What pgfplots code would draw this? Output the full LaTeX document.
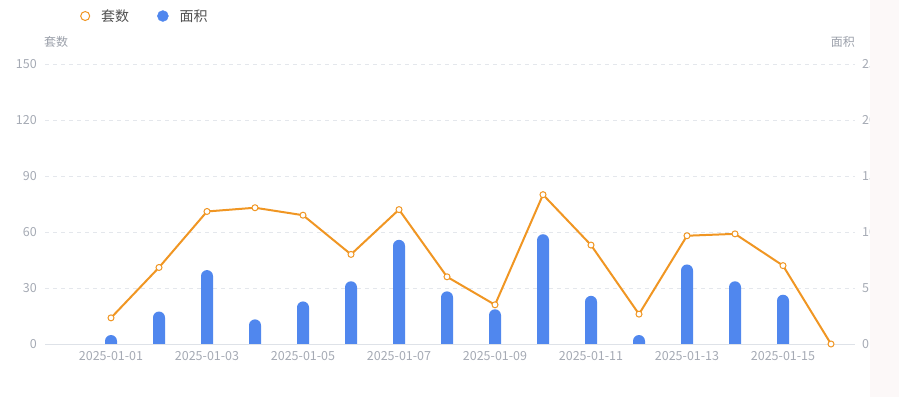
\documentclass[border=0pt]{standalone}
\usepackage{fontspec}
\setmainfont{Noto Sans CJK SC}
\usepackage{pgfplots}
\pgfplotsset{compat=1.18}
\usepackage{pgfplotstable}

\definecolor{barblue}{RGB}{80,135,238}
\definecolor{lineorange}{RGB}{240,150,35}
\definecolor{gridgray}{RGB}{228,231,236}
\definecolor{axisgray}{RGB}{222,226,232}
\definecolor{ticklab}{RGB}{165,170,180}
\definecolor{titlegray}{RGB}{155,160,170}
\definecolor{legendtext}{RGB}{80,80,80}
\definecolor{panelpink}{RGB}{252,248,248}

% rounded-top bar as a marker; clipped at y = 0 by the axis
\pgfdeclareplotmark{rbar}{%
  \pgfpathmoveto{\pgfqpoint{-6pt}{-500pt}}%
  \pgfpathlineto{\pgfqpoint{-6pt}{-6pt}}%
  \pgfpatharc{180}{0}{6pt}%
  \pgfpathlineto{\pgfqpoint{6pt}{-500pt}}%
  \pgfpathclose
  \pgfusepathqfill}

\pgfplotstableread{
x sets
0 14
1 41
2 71
3 73
4 69
5 48
6 72
7 36
8 21
9 80
10 53
11 16
12 58
13 59
14 42
15 0
}\setsdata

\pgfplotstableread{
x area
0 0.8
1 2.9
2 6.6
3 2.2
4 3.8
5 5.6
6 9.3
7 4.7
8 3.1
9 9.8
10 4.3
11 0.8
12 7.1
13 5.6
14 4.4
}\areadata

\pgfplotsset{
  common/.style={
    scale only axis, width=810pt, height=280pt,
    at={(45pt,53pt)}, anchor=south west,
    xmin=-1.375, xmax=15.5,
    major tick length=0pt,
    /pgf/number format/assume math mode=true,
    tick label style={font=\fontsize{12.5}{14}\selectfont, text=ticklab},
  }
}

\begin{document}
\begin{tikzpicture}
\path[use as bounding box] (0pt,0pt) rectangle (899pt,397pt);

% right axis: area bars (also carries the dashed grid, drawn under the bars)
\begin{axis}[common,
  hide x axis,
  axis y line*=right,
  y axis line style={draw=none},
  ymin=0, ymax=25, ytick={0,5,...,25},
  ymajorgrids,
  grid style={gridgray, line width=0.8pt, dash pattern=on 4pt off 4pt},
  yticklabel style={anchor=west, inner sep=0pt, xshift=7pt},
  clip marker paths=true,
  every axis y label/.style={at={(axis description cs:0.985,1.079)}, anchor=center},
  ylabel={面积},
  ylabel style={font=\fontsize{12}{14}\selectfont, text=titlegray},
]
\addplot[only marks, mark=rbar, color=barblue] table[x=x, y=area] {\areadata};
\end{axis}

% left axis: number of sets
\begin{axis}[common,
  axis x line*=bottom,
  axis y line*=left,
  x axis line style={-, draw=axisgray, line width=1pt},
  y axis line style={draw=none},
  ymin=0, ymax=150, ytick={0,30,...,150},
  xtick={0,2,...,14},
  xticklabels={2025-01-01,2025-01-03,2025-01-05,2025-01-07,2025-01-09,2025-01-11,2025-01-13,2025-01-15},
  xticklabel style={anchor=center, yshift=-12pt},
  yticklabel style={anchor=east, inner sep=0pt, xshift=-8pt},
  every axis y label/.style={at={(axis description cs:0.0136,1.079)}, anchor=center},
  ylabel={套数},
  ylabel style={font=\fontsize{12}{14}\selectfont, text=titlegray},
  legend style={draw=none, fill=none, at={(axis description cs:0.0432,1.1714)}, anchor=west,
    legend columns=2, font=\fontsize{14}{16}\selectfont, text=legendtext,
    inner sep=0pt,
    /tikz/every odd column/.append style={column sep=9pt},
    /tikz/every even column/.append style={column sep=26pt}},
  legend cell align=left,
]
\addplot[forget plot, lineorange, line width=2pt, mark=*, mark size=3pt,
  mark options={fill=white, draw=lineorange, line width=1pt}] table[x=x, y=sets] {\setsdata};
\addlegendimage{legend image code/.code={\draw[lineorange, line width=1pt, fill=white] (4.5pt,0pt) circle (4.5pt);}}
\addlegendentry{套数}
\addlegendimage{legend image code/.code={\fill[barblue] (5pt,0pt) circle (5.5pt);}}
\addlegendentry{面积}
\end{axis}

\fill[panelpink] (870pt,0pt) rectangle (899pt,397pt);
\end{tikzpicture}
\end{document}
